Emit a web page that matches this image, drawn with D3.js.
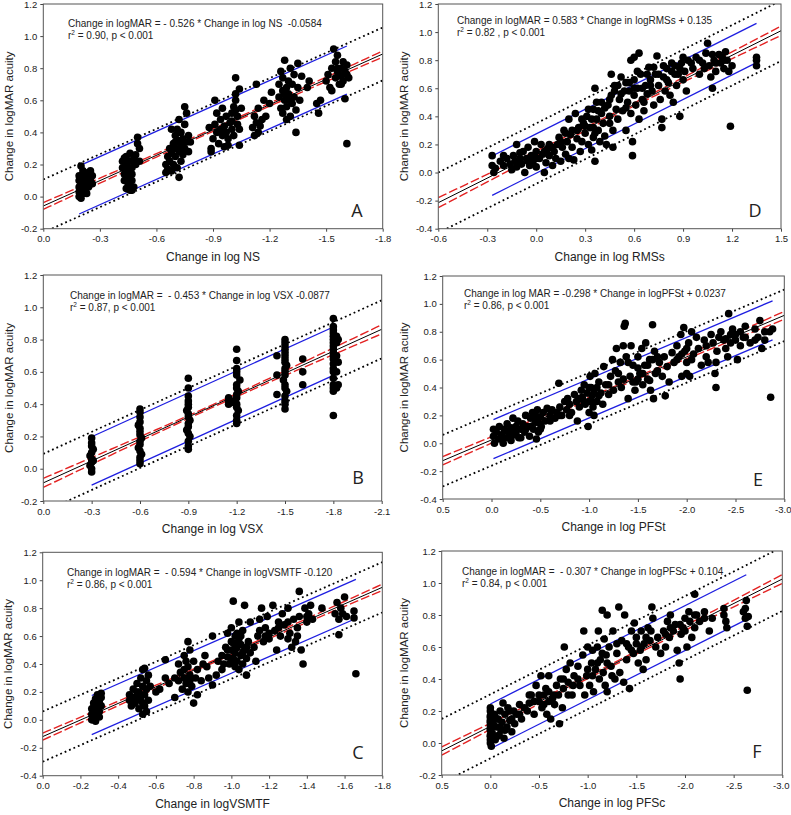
<!DOCTYPE html>
<html><head><meta charset="utf-8">
<script src="https://cdn.jsdelivr.net/npm/d3@7"></script>
<style>
body{margin:0;background:#fff}
text{font-family:"Liberation Sans",Arial,Helvetica,sans-serif;fill:#222}
</style>
</head><body>
<svg id="c" width="791" height="815"></svg>
<script>
// ---------------- DATA ----------------
const yTitle = "Change in logMAR acuity";
const xTitles = {A:"Change in log NS", D:"Change in log RMSs", B:"Change in log VSX", E:"Change in log PFSt", C:"Change in logVSMTF", F:"Change in log PFSc"};
const equations = {
  A:["Change in logMAR = - 0.526 * Change in log NS  -0.0584","0.90, p < 0.001"],
  D:["Change in logMAR = 0.583 * Change in logRMSs + 0.135","0.82 , p < 0.001"],
  B:["Change in logMAR =  - 0.453 * Change in log VSX -0.0877","0.87, p < 0.001"],
  E:["Change in log MAR = -0.298 * Change in logPFSt + 0.0237","0.86, p < 0.001"],
  C:["Change in logMAR =  - 0.594 * Change in logVSMTF -0.120","0.86, p < 0.001"],
  F:["Change in logMAR =  - 0.307 * Change in logPFSc + 0.104","0.84, p < 0.001"]
};
// regression slope / intercept
const slopes = {A:-0.526, D:0.583, B:-0.453, E:-0.298, C:-0.594, F:-0.307};
const intercepts = {A:-0.0584, D:0.135, B:-0.0877, E:0.0237, C:-0.120, F:0.104};
// offsets of the blue lines and dotted lines from the regression line
const blueOffset = {A:0.15, D:0.14, B:0.15, E:0.14, C:0.14, F:0.14};
const blueRange = {A:[-0.19,-1.61], D:[-0.27,1.35], B:[-0.3,-1.8], E:[-0.02,-2.88], C:[-0.26,-1.66], F:[0,-2.63]};
const dotOffset = {A:0.165, D:0.215, B:0.18, E:0.185, C:0.18, F:0.2};
// confidence band: [mean x, half width at mean, half width at edge, edge x]
const ciBand = {A:[-0.95,0.008,0.021,0], D:[0.5,0.01,0.036,-0.6], B:[-1.05,0.008,0.028,0], E:[-1.3,0.008,0.03,0.5], C:[-0.95,0.008,0.025,0], F:[-1.2,0.008,0.026,0.5]};

const xDomains = {A:[0,-1.8], D:[-0.6,1.5], B:[0,-2.1], E:[0.5,-3.0], C:[0,-1.8], F:[0.5,-3.0]};
const yDomains = {A:[-0.2,1.2], D:[-0.4,1.2], B:[-0.2,1.2], E:[-0.4,1.2], C:[-0.4,1.2], F:[-0.2,1.2]};
const xTicks = {
  A:[0,-0.3,-0.6,-0.9,-1.2,-1.5,-1.8],
  D:[-0.6,-0.3,0,0.3,0.6,0.9,1.2,1.5],
  B:[0,-0.3,-0.6,-0.9,-1.2,-1.5,-1.8,-2.1],
  E:[0.5,0,-0.5,-1.0,-1.5,-2.0,-2.5,-3.0],
  C:[0,-0.2,-0.4,-0.6,-0.8,-1.0,-1.2,-1.4,-1.6,-1.8],
  F:[0.5,0,-0.5,-1.0,-1.5,-2.0,-2.5,-3.0]
};
const yTicks02 = [-0.2,0,0.2,0.4,0.6,0.8,1.0,1.2];
const yTicks04 = [-0.4,-0.2,0,0.2,0.4,0.6,0.8,1.0,1.2];

const pointsA = [
[-0.19,0.00],[-0.19,0.03],[-0.19,0.06],[-0.19,0.1],[-0.19,0.13],[-0.2,0.19],[-0.2,0.01],[-0.2,0.05],[-0.2,0.08],[-0.21,0.12],[-0.21,0.16],[-0.21,0.02],[-0.22,0.07],[-0.22,0.1],[-0.22,0.04],[-0.23,0.14],[-0.23,0.09],[-0.24,0.06],[-0.24,0.12],[-0.25,0.16],[-0.25,0.1],[-0.26,0.08],[-0.26,0.13],[-0.2,-0.01],[-0.23,0.02],[-0.22,0.15],
[-0.42,0.18],[-0.42,0.22],[-0.43,0.14],[-0.43,0.1],[-0.44,0.05],[-0.44,0.2],[-0.44,0.25],[-0.45,0.16],[-0.45,0.12],[-0.45,0.08],[-0.46,0.04],[-0.46,0.22],[-0.46,0.27],[-0.47,0.18],[-0.47,0.14],[-0.47,0.1],[-0.48,0.06],[-0.48,0.24],[-0.49,0.2],[-0.49,0.26],[-0.5,0.33],[-0.5,0.37],[-0.51,0.3],[-0.51,0.22],[-0.47,0.04],[-0.43,0.24],
[-0.65,0.15],[-0.65,0.2],[-0.66,0.25],[-0.66,0.17],[-0.67,0.3],[-0.67,0.22],[-0.68,0.16],[-0.68,0.27],[-0.68,0.42],[-0.69,0.2],[-0.69,0.33],[-0.7,0.25],[-0.7,0.38],[-0.7,0.3],[-0.71,0.18],[-0.71,0.42],[-0.72,0.12],[-0.72,0.28],[-0.72,0.35],[-0.73,0.22],[-0.73,0.4],[-0.73,0.32],[-0.74,0.26],[-0.74,0.36],[-0.75,0.3],[-0.75,0.45],[-0.75,0.56],[-0.76,0.52],[-0.76,0.34],[-0.77,0.38],[-0.77,0.28],[-0.72,0.48],[-0.78,0.34],
[-0.88,0.43],[-0.89,0.3],[-0.89,0.28],[-0.9,0.36],[-0.91,0.6],[-0.91,0.45],[-0.92,0.4],[-0.92,0.52],[-0.93,0.33],[-0.94,0.48],[-0.94,0.42],[-0.95,0.38],[-0.95,0.55],[-0.96,0.44],[-0.96,0.31],[-0.97,0.5],[-0.97,0.4],[-0.98,0.36],[-0.99,0.46],[-1.0,0.42],[-1.0,0.52],[-1.01,0.56],[-1.01,0.38],[-1.02,0.6],[-1.02,0.74],[-1.02,0.64],[-1.03,0.45],[-1.03,0.5],[-1.04,0.32],[-1.04,0.42],[-1.05,0.55],[-1.04,0.67],[-0.98,0.32],
[-1.11,0.43],[-1.12,0.38],[-1.12,0.5],[-1.13,0.46],[-1.13,0.7],[-1.14,0.4],[-1.14,0.55],[-1.15,0.44],[-1.16,0.48],[-1.17,0.6],[-1.18,0.5],[-1.2,0.58],[-1.21,0.65],
[-1.25,0.62],[-1.25,0.7],[-1.26,0.55],[-1.26,0.78],[-1.27,0.66],[-1.27,0.52],[-1.27,0.74],[-1.28,0.85],[-1.28,0.6],[-1.29,0.68],[-1.29,0.56],[-1.3,0.72],[-1.3,0.64],[-1.31,0.8],[-1.31,0.5],[-1.32,0.7],[-1.32,0.58],[-1.33,0.76],[-1.33,0.62],[-1.34,0.54],[-1.34,0.4],[-1.35,0.68],[-1.35,0.83],[-1.36,0.6],[-1.37,0.75],[-1.4,0.68],[-1.41,0.72],[-1.29,0.48],
[-1.45,0.58],[-1.46,0.52],[-1.47,0.6],[-1.5,0.72],[-1.51,0.76],[-1.52,0.68],[-1.53,0.8],[-1.54,0.92],[-1.55,0.74],[-1.55,0.84],[-1.56,0.78],[-1.56,0.88],[-1.57,0.7],[-1.58,0.8],[-1.58,0.75],[-1.59,0.84],[-1.59,0.72],[-1.6,0.78],[-1.6,0.61],[-1.61,0.82],[-1.61,0.76],[-1.62,0.74],[-1.61,0.33],[-1.53,0.66],
[-0.7,0.34],[-0.74,0.3],[-1.0,0.47],[-1.02,0.54],[-1.28,0.64],[-1.3,0.6],[-1.56,0.8],[-1.58,0.7]
];
const pointsD = [
[-0.27,0.12],[-0.27,0.05],[-0.26,0.0],[-0.25,0.03],[-0.22,0.08],[-0.2,0.05],[-0.18,0.1],[-0.16,0.06],[-0.15,0.02],[-0.14,0.12],[-0.13,0.08],[-0.12,0.2],[-0.12,0.04],[-0.1,0.1],[-0.09,0.06],[-0.08,0.15],[-0.07,0.0],[-0.06,0.1],[-0.05,0.18],[-0.04,0.05],[-0.03,0.12],[-0.02,0.08],[-0.01,0.22],[0.0,0.15],[0.0,0.04],[0.02,0.1],[0.03,0.2],[0.04,0.13],[0.05,0.0],[0.06,0.07],[0.07,0.17],[0.08,0.12],
[0.1,0.05],[0.11,0.15],[0.12,0.1],[0.13,0.2],[0.14,0.25],[0.15,0.08],[0.16,0.18],[0.17,0.3],[0.18,0.13],[0.19,0.22],[0.2,0.38],[0.2,0.1],[0.21,0.27],[0.22,0.18],[0.23,0.09],[0.24,0.42],[0.25,0.24],[0.26,0.32],[0.27,0.15],[0.28,0.22],[0.29,0.35],[0.3,0.28],
[0.31,0.4],[0.32,0.2],[0.33,0.32],[0.34,0.16],[0.35,0.45],[0.35,0.25],[0.36,0.6],[0.36,0.08],[0.37,0.38],[0.37,0.5],[0.38,0.3],[0.39,0.22],[0.4,0.42],[0.41,0.35],[0.42,0.26],[0.43,0.2],[0.44,0.48],[0.45,0.4],[0.46,0.55],[0.46,0.7],[0.47,0.3],[0.47,0.18],[0.48,0.62],[0.49,0.45],
[0.5,0.38],[0.51,0.52],[0.52,0.68],[0.53,0.44],[0.54,0.58],[0.55,0.3],[0.56,0.5],[0.57,0.64],[0.58,0.8],[0.58,0.42],[0.59,0.22],[0.59,0.12],[0.6,0.55],[0.6,0.82],[0.61,0.48],[0.62,0.6],[0.63,0.85],[0.63,0.38],[0.64,0.7],[0.65,0.52],[0.66,0.44],[0.67,0.62],[0.68,0.56],[0.69,0.75],[0.7,0.66],
[0.71,0.58],[0.72,0.48],[0.73,0.7],[0.74,0.83],[0.75,0.62],[0.76,0.52],[0.77,0.32],[0.77,0.38],[0.78,0.68],[0.79,0.58],[0.8,0.74],[0.81,0.64],[0.82,0.55],[0.83,0.72],[0.84,0.5],[0.85,0.76],[0.86,0.62],[0.87,0.7],[0.88,0.4],[0.89,0.78],[0.9,0.66],[0.91,0.72],[0.92,0.58],[0.93,0.8],
[0.96,0.74],[0.98,0.82],[1.0,0.7],[1.02,0.78],[1.04,0.85],[1.05,0.92],[1.06,0.76],[1.07,0.68],[1.08,0.6],[1.09,0.8],[1.1,0.72],[1.12,0.84],[1.13,0.78],[1.14,0.82],[1.15,0.74],[1.16,0.86],[1.17,0.8],[1.18,0.72],[1.19,0.33],
[1.35,0.76],[1.35,0.8],[1.35,0.82],
[-0.2,0.12],[-0.1,0.14],[-0.05,0.08],[0.0,0.1],[0.05,0.15],[0.08,0.2],[0.1,0.18],[0.15,0.22],[0.18,0.28],[0.22,0.3],[0.25,0.3],[0.28,0.38],[0.3,0.33],[0.32,0.45],[0.34,0.38],[0.36,0.28],[0.38,0.44],[0.4,0.5],[0.42,0.46],[0.45,0.52],[0.48,0.58],[0.5,0.62],[0.52,0.56],[0.55,0.64],[0.57,0.58],[0.6,0.66],[0.62,0.72],[0.65,0.6],[0.68,0.7],[0.7,0.62],[0.72,0.75],[0.75,0.7],[0.78,0.76],[0.8,0.66],[0.83,0.78],[0.85,0.7],[0.88,0.74],[0.9,0.82],[0.95,0.78],[1.0,0.8],[1.03,0.74],[1.08,0.84],[1.1,0.78],[1.15,0.8],[1.2,0.76],[0.6,0.6],[0.45,0.35],[0.35,0.32],[0.55,0.46],[0.66,0.5]
];
const pointsB = [
[-0.3,-0.02],[-0.3,0.0],[-0.29,0.02],[-0.3,0.04],[-0.31,0.05],[-0.3,0.06],[-0.29,0.08],[-0.3,0.1],[-0.31,0.12],[-0.3,0.14],[-0.3,0.16],[-0.3,0.19],
[-0.6,0.03],[-0.6,0.05],[-0.6,0.07],[-0.61,0.09],[-0.6,0.11],[-0.59,0.13],[-0.6,0.15],[-0.6,0.17],[-0.61,0.19],[-0.6,0.21],[-0.6,0.23],[-0.6,0.25],[-0.59,0.27],[-0.6,0.29],[-0.6,0.32],[-0.6,0.35],[-0.6,0.37],
[-0.9,0.12],[-0.9,0.14],[-0.9,0.17],[-0.91,0.2],[-0.9,0.22],[-0.89,0.24],[-0.9,0.26],[-0.9,0.28],[-0.91,0.3],[-0.9,0.32],[-0.9,0.34],[-0.89,0.36],[-0.9,0.38],[-0.9,0.4],[-0.9,0.42],[-0.9,0.45],[-0.9,0.5],[-0.9,0.56],
[-1.2,0.28],[-1.2,0.3],[-1.2,0.33],[-1.21,0.36],[-1.2,0.38],[-1.2,0.4],[-1.19,0.42],[-1.2,0.44],[-1.2,0.46],[-1.21,0.48],[-1.2,0.5],[-1.2,0.52],[-1.22,0.55],[-1.2,0.58],[-1.2,0.6],[-1.2,0.62],[-1.2,0.67],[-1.2,0.74],[-1.15,0.4],[-1.15,0.42],[-1.15,0.44],[-1.17,0.41],
[-1.5,0.37],[-1.5,0.4],[-1.5,0.42],[-1.5,0.45],[-1.51,0.48],[-1.5,0.5],[-1.5,0.52],[-1.49,0.55],[-1.5,0.58],[-1.5,0.6],[-1.5,0.62],[-1.51,0.64],[-1.5,0.66],[-1.5,0.68],[-1.5,0.7],[-1.5,0.72],[-1.5,0.74],[-1.5,0.76],[-1.5,0.78],[-1.5,0.8],[-1.45,0.46],[-1.45,0.58],[-1.45,0.7],[-1.61,0.52],[-1.61,0.6],[-1.61,0.68],
[-1.8,0.33],[-1.8,0.48],[-1.8,0.5],[-1.8,0.52],[-1.8,0.56],[-1.8,0.6],[-1.8,0.62],[-1.8,0.65],[-1.8,0.68],[-1.8,0.7],[-1.8,0.72],[-1.8,0.74],[-1.8,0.76],[-1.8,0.78],[-1.8,0.8],[-1.8,0.82],[-1.8,0.84],[-1.8,0.86],[-1.8,0.88],[-1.8,0.93],[-1.82,0.5],[-1.82,0.6],[-1.82,0.7],[-1.82,0.78],[-1.82,0.82],[-1.83,0.52],[-1.83,0.66],[-1.83,0.8]
];
const pointsE = [
[-0.02,0.1],[-0.02,0.05],[-0.03,0.0],[-0.05,0.08],[-0.07,0.03],[-0.08,0.12],[-0.1,0.06],[-0.12,0.0],[-0.13,0.1],[-0.15,0.04],[-0.16,0.14],[-0.18,0.08],[-0.2,0.02],[-0.2,0.11],[-0.22,0.18],[-0.23,0.06],[-0.25,0.12],[-0.27,0.16],[-0.28,0.04],[-0.3,0.1],[-0.32,0.14],[-0.34,0.08],[-0.35,0.2],[-0.37,0.12],[-0.39,0.05],[-0.4,0.18],[-0.42,0.22],[-0.43,0.1],[-0.45,0.15],[-0.46,0.03],[-0.47,0.24],[-0.48,0.08],[-0.5,0.19],[-0.51,0.12],
[-0.53,0.22],[-0.55,0.16],[-0.57,0.25],[-0.6,0.2],[-0.62,0.24],[-0.65,0.18],[-0.67,0.22],[-0.69,0.43],[-0.7,0.26],[-0.72,0.2],[-0.75,0.3],[-0.77,0.24],[-0.78,0.32],[-0.8,0.28],[-0.82,0.22],[-0.85,0.35],[-0.87,0.3],[-0.88,0.16],[-0.9,0.26],[-0.92,0.38],[-0.93,0.33],[-0.95,0.42],[-0.96,0.28],[-0.98,0.36],[-0.99,0.12],[-1.0,0.3],
[-1.01,0.48],[-1.02,0.4],[-1.03,0.34],[-1.04,0.26],[-1.05,0.2],[-1.06,0.5],[-1.08,0.3],[-1.1,0.44],[-1.12,0.36],[-1.14,0.28],[-1.15,0.55],[-1.17,0.42],[-1.2,0.35],[-1.22,0.48],[-1.24,0.6],[-1.25,0.38],[-1.27,0.52],[-1.28,0.68],[-1.3,0.44],[-1.32,0.58],[-1.33,0.4],[-1.35,0.7],[-1.36,0.84],[-1.37,0.86],[-1.38,0.62],[-1.4,0.32],[-1.42,0.48],[-1.43,0.7],[-1.45,0.56],[-1.47,0.38],[-1.48,0.44],[-1.5,0.62],
[-1.52,0.5],[-1.54,0.68],[-1.55,0.42],[-1.57,0.56],[-1.58,0.72],[-1.6,0.46],[-1.62,0.6],[-1.63,0.38],[-1.65,0.85],[-1.66,0.32],[-1.67,0.66],[-1.7,0.52],[-1.72,0.58],[-1.75,0.48],[-1.77,0.62],[-1.78,0.34],[-1.8,0.55],[-1.82,0.44],[-1.85,0.65],[-1.87,0.58],[-1.9,0.7],[-1.92,0.62],[-1.94,0.78],[-1.95,0.48],[-1.97,0.83],[-1.98,0.66],[-2.0,0.58],
[-2.02,0.72],[-2.03,0.48],[-2.05,0.8],[-2.07,0.64],[-2.1,0.76],[-2.12,0.68],[-2.15,0.56],[-2.18,0.74],[-2.2,0.7],[-2.22,0.58],[-2.25,0.78],[-2.27,0.72],[-2.29,0.5],[-2.3,0.4],[-2.31,0.66],[-2.33,0.76],[-2.35,0.8],[-2.38,0.74],[-2.4,0.68],[-2.42,0.62],[-2.43,0.93],[-2.45,0.78],[-2.47,0.82],[-2.5,0.74],[-2.52,0.6],[-2.55,0.8],[-2.58,0.76],[-2.6,0.84],[-2.65,0.72],[-2.7,0.82],[-2.73,0.76],[-2.75,0.88],[-2.77,0.68],[-2.8,0.74],[-2.85,0.8],[-2.86,0.33],[-2.88,0.82],
[-0.1,0.03],[-0.15,0.09],[-0.2,0.06],[-0.25,0.07],[-0.3,0.04],[-0.35,0.1],[-0.4,0.12],[-0.45,0.2],[-0.5,0.1],[-0.48,0.15],[-0.6,0.16],[-0.7,0.2],[-0.8,0.2],[-0.9,0.32],[-0.95,0.3],[-1.0,0.4],[-1.0,0.22],[-1.02,0.3],[-1.05,0.36],[-1.08,0.4],[-1.1,0.34],[-1.2,0.42],[-1.3,0.5],[-1.35,0.46],[-1.4,0.58],[-1.45,0.44],[-1.5,0.46],[-1.5,0.54],[-1.55,0.5],[-1.6,0.56],[-1.62,0.45],[-1.65,0.6],[-1.68,0.5],[-1.7,0.62],[-1.9,0.6],[-1.95,0.64],[-2.0,0.68],[-2.0,0.5],[-2.05,0.6],[-2.2,0.62],[-2.3,0.58],[-2.4,0.75],[-2.45,0.72],[-2.5,0.78],[-2.55,0.7],[-2.6,0.76],[-2.7,0.74],[-2.8,0.8]
];
const pointsC = [
[-0.26,0.0],[-0.26,0.04],[-0.26,0.08],[-0.27,0.12],[-0.27,0.02],[-0.27,0.06],[-0.28,0.1],[-0.28,0.15],[-0.28,-0.01],[-0.29,0.04],[-0.29,0.08],[-0.29,0.18],[-0.3,0.12],[-0.3,0.02],[-0.3,0.06],[-0.31,0.1],[-0.31,0.16],[-0.31,0.19],
[-0.46,0.14],[-0.46,0.18],[-0.47,0.1],[-0.48,0.22],[-0.49,0.12],[-0.5,0.16],[-0.5,0.26],[-0.51,0.08],[-0.51,0.2],[-0.52,0.14],[-0.52,0.3],[-0.53,0.04],[-0.53,0.24],[-0.53,0.36],[-0.54,0.1],[-0.54,0.18],[-0.55,0.28],[-0.55,0.22],[-0.55,0.06],[-0.56,0.14],[-0.56,0.32],[-0.54,0.37],[-0.57,0.24],
[-0.6,0.2],[-0.62,0.22],[-0.65,0.3],[-0.65,0.43],[-0.67,0.26],[-0.7,0.16],[-0.72,0.28],[-0.72,0.4],[-0.73,0.34],[-0.74,0.22],[-0.75,0.46],[-0.75,0.3],[-0.76,0.26],[-0.77,0.38],[-0.77,0.2],[-0.78,0.5],[-0.78,0.32],[-0.79,0.24],[-0.8,0.42],[-0.8,0.12],[-0.81,0.3],[-0.82,0.36],[-0.82,0.18],[-0.84,0.28],[-0.86,0.46],[-0.87,0.38],[-0.88,0.3],[-0.9,0.6],[-0.9,0.25],[-0.92,0.32],[-0.93,0.42],[-0.95,0.36],[-0.97,0.52],[-0.77,0.56],
[-0.98,0.45],[-0.98,0.62],[-0.99,0.4],[-1.0,0.5],[-1.0,0.66],[-1.01,0.44],[-1.01,0.55],[-1.01,0.85],[-1.02,0.38],[-1.02,0.6],[-1.02,0.48],[-1.03,0.52],[-1.03,0.42],[-1.04,0.58],[-1.04,0.36],[-1.04,0.7],[-1.05,0.46],[-1.05,0.54],[-1.06,0.4],[-1.06,0.64],[-1.07,0.5],[-1.07,0.82],[-1.08,0.32],[-1.08,0.44],[-1.09,0.56],[-1.1,0.48],[-1.1,0.7],[-1.12,0.52],[-1.13,0.42],
[-1.14,0.6],[-1.15,0.72],[-1.16,0.8],[-1.17,0.56],[-1.18,0.66],[-1.19,0.74],[-1.2,0.58],[-1.22,0.82],[-1.23,0.64],[-1.24,0.5],[-1.25,0.7],[-1.26,0.6],[-1.27,0.76],[-1.28,0.68],[-1.3,0.8],[-1.31,0.62],[-1.32,0.52],[-1.33,0.72],[-1.34,0.56],[-1.35,0.66],[-1.36,0.92],[-1.36,0.74],[-1.37,0.5],[-1.38,0.4],[-1.39,0.8],[-1.4,0.7],
[-1.41,0.76],[-1.42,0.82],[-1.43,0.72],[-1.48,0.8],[-1.55,0.76],[-1.56,0.84],[-1.57,0.72],[-1.58,0.8],[-1.59,0.76],[-1.6,0.88],[-1.61,0.74],[-1.57,0.61],[-1.65,0.78],[-1.65,0.73],[-1.66,0.33],
[-0.98,0.5],[-1.0,0.56],[-1.0,0.42],[-1.02,0.54],[-1.03,0.62],[-1.05,0.6],[-1.06,0.48],[-1.08,0.52],[-0.95,0.46],[-0.96,0.4],[-0.5,0.2],[-0.52,0.18],[-0.53,0.12],[-0.48,0.16],[-0.28,0.06],[-0.27,0.09],[-0.3,0.14],[-0.75,0.36],[-0.76,0.42],[-0.78,0.28],[-1.2,0.62],[-1.25,0.66],[-1.3,0.7],[-1.3,0.58],[-1.35,0.6],[-1.4,0.74],[-1.15,0.64],[-1.18,0.6],[-0.85,0.4],[-0.7,0.3]
];
const pointsF = [
[0,0.0],[0,0.02],[0,0.05],[0,0.08],[0,0.11],[0,0.14],[0,0.17],[0,0.2],[0,0.22],[-0.01,-0.02],[-0.02,0.06],[-0.03,0.12],[-0.04,0.18],[-0.05,0.02],[-0.06,0.1],[-0.08,0.15],[-0.09,0.05],[-0.1,0.2],[-0.11,0.08],[-0.12,0.13],[-0.13,0.25],[-0.14,0.03],[-0.15,0.18],[-0.17,0.1],[-0.18,0.22],[-0.2,0.14],[-0.22,0.07],[-0.24,0.2],[-0.25,0.12],[-0.27,0.18],[-0.3,0.24],[-0.32,0.15],
[-0.35,0.22],[-0.38,0.2],[-0.4,0.25],[-0.42,0.3],[-0.45,0.18],[-0.47,0.36],[-0.5,0.26],[-0.52,0.42],[-0.53,0.22],[-0.55,0.3],[-0.57,0.34],[-0.58,0.18],[-0.6,0.26],[-0.6,0.42],[-0.62,0.15],[-0.64,0.28],[-0.66,0.24],[-0.68,0.36],[-0.7,0.3],[-0.71,0.12],[-0.72,0.4],[-0.74,0.22],[-0.75,0.34],[-0.76,0.6],[-0.78,0.46],[-0.8,0.38],
[-0.82,0.5],[-0.84,0.3],[-0.86,0.42],[-0.9,0.48],[-0.92,0.36],[-0.95,0.55],[-0.96,0.7],[-0.97,0.3],[-0.99,0.42],[-1.0,0.6],[-1.02,0.36],[-1.04,0.5],[-1.05,0.58],[-1.06,0.32],[-1.08,0.46],[-1.1,0.6],[-1.11,0.7],[-1.12,0.4],[-1.13,0.52],[-1.15,0.83],[-1.16,0.44],[-1.17,0.65],[-1.18,0.36],[-1.19,0.55],[-1.2,0.8],[-1.2,0.32],
[-1.22,0.6],[-1.24,0.48],[-1.26,0.7],[-1.28,0.4],[-1.3,0.56],[-1.32,0.85],[-1.33,0.44],[-1.35,0.64],[-1.37,0.38],[-1.38,0.8],[-1.4,0.52],[-1.42,0.6],[-1.43,0.34],[-1.45,0.7],[-1.47,0.56],[-1.48,0.75],[-1.5,0.62],[-1.52,0.5],[-1.54,0.58],[-1.55,0.7],[-1.57,0.46],[-1.58,0.62],[-1.6,0.52],[-1.62,0.72],[-1.64,0.64],[-1.66,0.85],[-1.67,0.78],[-1.7,0.6],
[-1.72,0.66],[-1.75,0.56],[-1.78,0.7],[-1.8,0.6],[-1.82,0.76],[-1.84,0.66],[-1.85,0.8],[-1.88,0.7],[-1.9,0.74],[-1.92,0.58],[-1.94,0.5],[-1.95,0.4],[-1.96,0.68],[-1.98,0.72],[-2.0,0.78],[-2.02,0.6],[-2.04,0.82],[-2.07,0.66],[-2.1,0.93],[-2.1,0.72],[-2.12,0.8],[-2.15,0.76],[-2.2,0.82],[-2.25,0.7],[-2.28,0.78],[-2.4,0.84],[-2.42,0.76],[-2.43,0.72],[-2.6,0.82],[-2.62,0.78],[-2.63,0.89],[-2.64,0.73],[-2.65,0.79],[-2.64,0.33],
[0,0.04],[0,0.09],[0,0.13],[0,0.16],[-0.02,0.14],[-0.05,0.16],[-0.07,0.04],[-0.1,0.1],[-0.15,0.08],[-0.2,0.2],[-0.22,0.15],[-0.3,0.18],[-0.4,0.3],[-0.45,0.26],[-0.5,0.3],[-0.55,0.24],[-0.6,0.32],[-0.65,0.3],[-0.75,0.4],[-0.8,0.3],[-0.85,0.36],[-0.9,0.4],[-1.0,0.46],[-1.05,0.42],[-1.1,0.5],[-1.15,0.56],[-1.2,0.5],[-1.25,0.42],[-1.3,0.62],[-1.4,0.62],[-1.45,0.58],[-1.5,0.66],[-1.55,0.6],[-1.6,0.66],[-1.65,0.7],[-1.8,0.68],[-1.85,0.72],[-1.95,0.74],[-2.0,0.7],[-2.05,0.76],[-2.1,0.8],[-2.2,0.78],[-2.4,0.8],[-2.62,0.84]
];
const pointSets = {A:pointsA, D:pointsD, B:pointsB, E:pointsE, C:pointsC, F:pointsF};

// ---------------- LAYOUT ----------------
const layout = {
  A:{left:43.3, right:382.7, top:4,   bottom:228.7, ytx:5,   eqx:68,  eqy:27,  lx:357, ly:217},
  D:{left:438.3,right:781,   top:4,   bottom:228.7, ytx:400, eqx:457, eqy:24,  lx:755, ly:217},
  B:{left:43.3, right:381.7, top:275, bottom:501,   ytx:5,   eqx:70,  eqy:299, lx:358, ly:484},
  E:{left:442.7,right:784.3, top:276, bottom:499,   ytx:400, eqx:464, eqy:297, lx:758, ly:486},
  C:{left:42.7, right:382.3, top:552.3,bottom:775.7,ytx:4,   eqx:67,  eqy:576, lx:358, ly:759},
  F:{left:441.7,right:782.3, top:551, bottom:775,   ytx:400, eqx:462, eqy:575, lx:757, ly:758}
};

const svg = d3.select("#c");
const fmt = d => (Math.abs(d) < 1e-9 ? 0 : d).toFixed(1);

["A","D","B","E","C","F"].forEach(id => {
  const L = layout[id];
  const x = d3.scaleLinear().domain(xDomains[id]).range([L.left, L.right]);
  const y = d3.scaleLinear().domain(yDomains[id]).range([L.bottom, L.top]);
  const g = svg.append("g");
  const clipId = "clip" + id;
  svg.append("clipPath").attr("id", clipId).append("rect")
    .attr("x", L.left).attr("y", L.top).attr("width", L.right - L.left).attr("height", L.bottom - L.top);

  // axes
  const xa = g.append("g").attr("transform", `translate(0,${L.bottom})`)
    .call(d3.axisBottom(x).tickValues(xTicks[id]).tickSize(3).tickPadding(4).tickFormat(fmt));
  const ya = g.append("g").attr("transform", `translate(${L.left},0)`)
    .call(d3.axisLeft(y).tickValues(id==="A"||id==="B"||id==="F" ? yTicks02 : yTicks04).tickSize(3).tickPadding(3).tickFormat(fmt));
  [xa, ya].forEach(a => {
    a.select(".domain").remove();
    a.selectAll("line").attr("stroke", "#444");
    a.selectAll("text").style("font-size", "9.5px").attr("fill", "#333");
  });
  // keep the last x label inside the picture
  xa.selectAll(".tick text").filter((d, i, n) => x(d) + 10 > 791).attr("text-anchor", "end").attr("dx", "0.7em");

  const plot = g.append("g").attr("clip-path", `url(#${clipId})`);
  const m = slopes[id], b = intercepts[id];
  const reg = v => m * v + b;
  const [x0, x1] = xDomains[id];
  const line = d3.line().x(d => x(d[0])).y(d => y(d[1]));

  // dotted lines
  [1, -1].forEach(s => {
    plot.append("path").attr("d", line([[x0, reg(x0) + s*dotOffset[id]], [x1, reg(x1) + s*dotOffset[id]]]))
      .attr("fill", "none").attr("stroke", "#000").attr("stroke-width", 1.8).attr("stroke-dasharray", "1.8,3");
  });
  // blue lines
  const [b0, b1] = blueRange[id];
  [1, -1].forEach(s => {
    plot.append("path").attr("d", line([[b0, reg(b0) + s*blueOffset[id]], [b1, reg(b1) + s*blueOffset[id]]]))
      .attr("fill", "none").attr("stroke", "#1e1ee0").attr("stroke-width", 1.3);
  });
  // confidence band (red dashed)
  const [xm, h0, hE, xE] = ciBand[id];
  const k = Math.sqrt(hE*hE - h0*h0) / Math.abs(xE - xm);
  const xs = d3.range(0, 61).map(i => x0 + (x1 - x0) * i / 60);
  [1, -1].forEach(s => {
    plot.append("path").attr("d", line(xs.map(v => [v, reg(v) + s*Math.sqrt(h0*h0 + k*k*(v-xm)*(v-xm))])))
      .attr("fill", "none").attr("stroke", "#e32222").attr("stroke-width", 1.4).attr("stroke-dasharray", "9,3");
  });
  // regression line
  plot.append("path").attr("d", line([[x0, reg(x0)], [x1, reg(x1)]]))
    .attr("fill", "none").attr("stroke", "#000").attr("stroke-width", 1);

  // points
  plot.selectAll("circle").data(pointSets[id]).join("circle")
    .attr("cx", d => x(d[0])).attr("cy", d => y(d[1])).attr("r", 3.8).attr("fill", "#000");

  // frame
  g.append("rect").attr("x", L.left).attr("y", L.top).attr("width", L.right - L.left).attr("height", L.bottom - L.top)
    .attr("fill", "none").attr("stroke", "#555").attr("stroke-width", 1);

  // titles
  g.append("text").attr("x", (L.left + L.right) / 2).attr("y", L.bottom + 32).attr("text-anchor", "middle")
    .style("font-size", "12px").text(xTitles[id]);
  g.append("text").attr("transform", `translate(${L.ytx},${(L.top + L.bottom)/2}) rotate(-90)`)
    .attr("text-anchor", "middle").attr("dy", "0.7em").style("font-size", "11.5px").text(yTitle);

  // equation
  const eq = equations[id];
  g.append("text").attr("x", L.eqx).attr("y", L.eqy).style("font-size", "10px").style("white-space", "pre").text(eq[0]);
  const t2 = g.append("text").attr("x", L.eqx).attr("y", L.eqy + 11.5).style("font-size", "10px").style("white-space", "pre");
  t2.append("tspan").text("r");
  t2.append("tspan").attr("dy", -4).style("font-size", "6.5px").text("2");
  t2.append("tspan").attr("dy", 4).text(" = " + eq[1]);

  // panel letter
  g.append("text").attr("x", L.lx).attr("y", L.ly).attr("text-anchor", "middle")
    .style("font-family", "'Open Sans', 'DejaVu Sans', sans-serif").style("font-size", "18px").attr("fill", "#111").text(id);
});
</script>
</body></html>
